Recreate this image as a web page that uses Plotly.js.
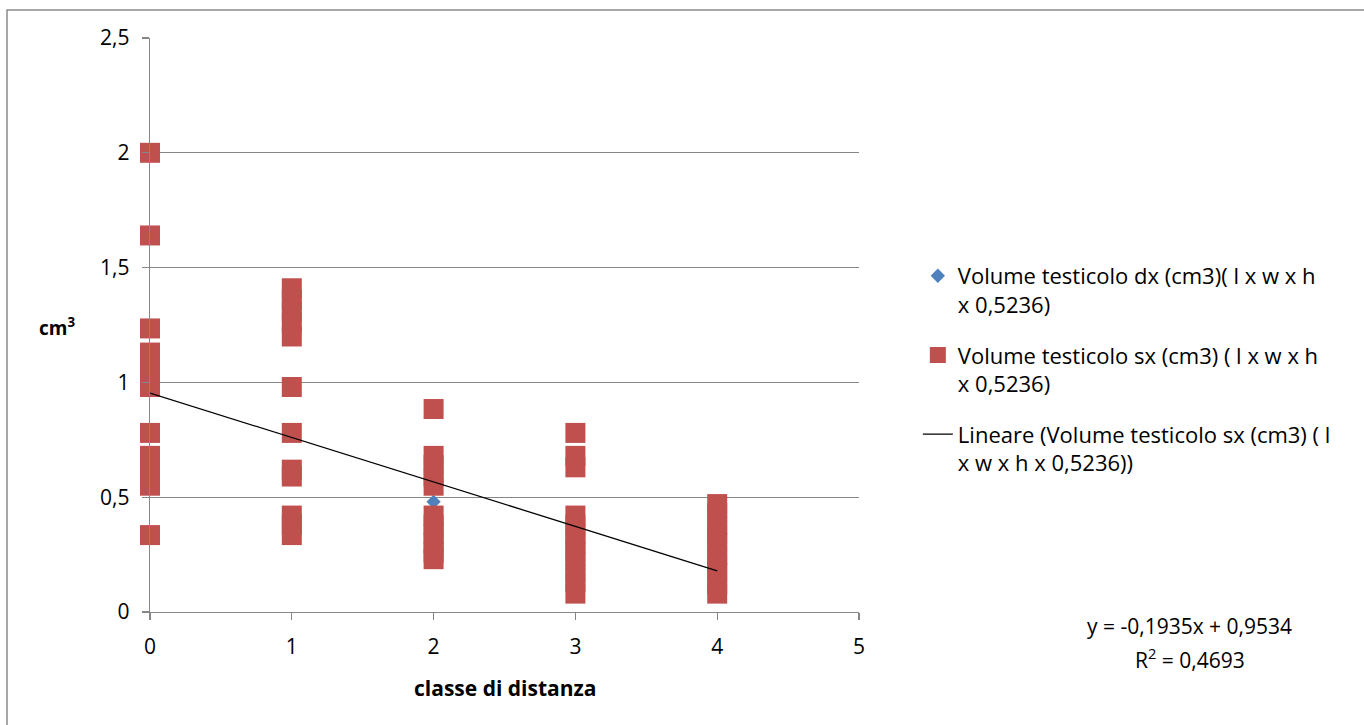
<!DOCTYPE html>
<html>
<head>
<meta charset="utf-8">
<script src="https://cdn.plot.ly/plotly-3.0.1.min.js"></script>
<style>html,body{margin:0;padding:0;background:#fff;}#chart{width:1364px;height:725px;}</style>
</head>
<body>
<div id="chart"></div>
<script>
// Volume testicolo sx (cm3)
var sxClass = [0,0,0,0,0,0,0,0,0,0,0,0,0,
               1,1,1,1,1,1,1,1,1,1,1,1,
               2,2,2,2,2,2,2,2,2,2,2,
               3,3,3,3,3,3,3,3,3,3,3,3,
               4,4,4,4,4,4,4,4,4,4];
var sxVolume = [2.0,1.64,1.235,1.13,1.08,1.03,0.98,0.78,0.68,0.63,0.59,0.55,0.335,
                1.41,1.36,1.31,1.26,1.20,0.98,0.78,0.62,0.59,0.42,0.38,0.335,
                0.884,0.68,0.64,0.59,0.55,0.42,0.38,0.34,0.30,0.26,0.23,
                0.78,0.68,0.63,0.42,0.38,0.34,0.30,0.26,0.22,0.17,0.13,0.08,
                0.47,0.43,0.38,0.34,0.30,0.25,0.21,0.17,0.12,0.08];
// Volume testicolo dx (cm3) – only the visible point
var dxClass = [2];
var dxVolume = [0.48];
// Trend line coefficients as printed on the chart
var trendSlope = -0.1935;
var trendIntercept = 0.9534;
var trendR2 = 0.4693;
var trendX = [0, 4];
var trendY = trendX.map(function(x){ return trendSlope * x + trendIntercept; });

var xTicks = [0,1,2,3,4,5];
var yTicks = [0,0.5,1,1.5,2,2.5];

var FONT = '"Open Sans", "Noto Sans", sans-serif';
var grid = '#868686';

var traces = [
  {x: dxClass, y: dxVolume, type: 'scatter', mode: 'markers', legendgroup: 'a', cliponaxis: false,
   name: 'Volume testicolo dx (cm3)( l x w x h<br>x 0,5236)',
   marker: {symbol: 'diamond', size: 11, color: '#4F81BD'}},
  {x: sxClass, y: sxVolume, type: 'scatter', mode: 'markers', legendgroup: 'b', cliponaxis: false,
   name: 'Volume testicolo sx (cm3) ( l x w x h<br>x 0,5236)',
   marker: {symbol: 'square', size: 20, color: '#C0504D'}},
  {x: trendX, y: trendY, type: 'scatter', mode: 'lines', legendgroup: 'c', cliponaxis: false,
   name: 'Lineare (Volume testicolo sx (cm3) ( l<br>x w x h x 0,5236))',
   line: {color: '#000000', width: 1.3}}
];

var fmt = function(v){ return String(v).replace('.', ','); };

var layout = {
  width: 1364, height: 725,
  margin: {l: 150, r: 505, t: 38, b: 113},
  paper_bgcolor: '#ffffff', plot_bgcolor: '#ffffff',
  separators: ',.',
  font: {family: FONT, size: 20, color: '#000'},
  showlegend: true,
  legend: {x: 1.083, xanchor: 'left', y: 0.622, yanchor: 'top', valign: 'top',
           font: {family: FONT, size: 22, color: '#000'}, tracegroupgap: 19,
           bgcolor: 'rgba(0,0,0,0)'},
  xaxis: {range: [0, 5], tickvals: xTicks, ticktext: xTicks.map(fmt),
          showgrid: false, zeroline: false, showline: true, linecolor: grid, linewidth: 1.3,
          ticks: 'outside', ticklen: 7, tickcolor: grid, tickwidth: 1.3,
          ticklabelstandoff: 8, tickfont: {family: FONT, size: 21, color: '#000'}, fixedrange: true},
  yaxis: {range: [0, 2.5], tickvals: yTicks, ticktext: yTicks.map(fmt),
          showgrid: true, gridcolor: grid, gridwidth: 1.2, zeroline: false,
          showline: true, linecolor: grid, linewidth: 1.3,
          ticks: 'outside', ticklen: 7, tickcolor: grid, tickwidth: 1.3,
          ticklabelstandoff: 8, tickfont: {family: FONT, size: 21, color: '#000'}, fixedrange: true},
  annotations: [
    {xref: 'paper', yref: 'paper', x: -0.131, y: 0.4965, xanchor: 'center', yanchor: 'middle',
     text: '<b>cm<sup>3</sup></b>',
     showarrow: false, font: {family: FONT, size: 19, color: '#000'}},
    {xref: 'paper', yref: 'paper', x: 0.5007, y: -0.1324, xanchor: 'center', yanchor: 'middle',
     text: '<b>classe di distanza</b>',
     showarrow: false, font: {family: FONT, size: 21, color: '#000'}},
    {xref: 'paper', yref: 'paper', x: 1.4668, y: (612-626)/574, xanchor: 'center', yanchor: 'middle',
     text: 'y = ' + fmt(trendSlope) + 'x + ' + fmt(trendIntercept),
     showarrow: false, font: {family: FONT, size: 21, color: '#000'}},
    {xref: 'paper', yref: 'paper', x: 1.4668, y: (612-659)/574, xanchor: 'center', yanchor: 'middle',
     text: 'R<sup>2</sup> = ' + fmt(trendR2),
     showarrow: false, font: {family: FONT, size: 21, color: '#000'}}
  ],
  shapes: [
    {type: 'rect', xref: 'paper', yref: 'paper', layer: 'below',
     x0: (7-150)/709, x1: (1380-150)/709, y0: (612-740)/574, y1: (612-10)/574,
     line: {color: '#8c8c8c', width: 1.5}, fillcolor: 'rgba(0,0,0,0)'}
  ]
};

Plotly.newPlot('chart', traces, layout, {displayModeBar: false, staticPlot: true});
</script>
</body>
</html>
